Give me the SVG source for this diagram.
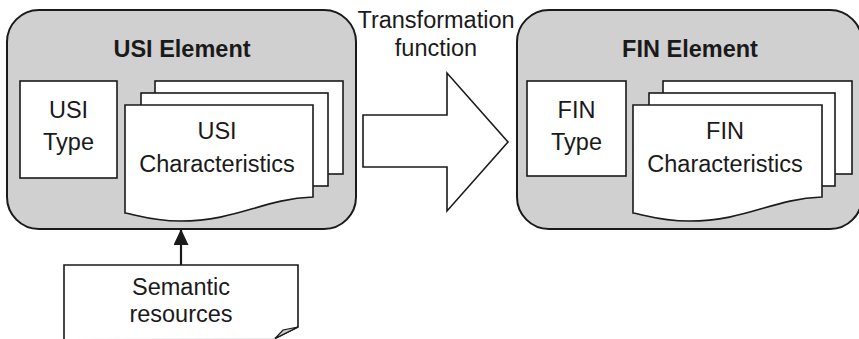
<svg xmlns="http://www.w3.org/2000/svg" width="859" height="339" viewBox="0 0 859 339">
<defs>
<style>
.elem{fill:#d0d0d0;stroke:#1a1a1a;stroke-width:2}
.box{fill:#fff;stroke:#1a1a1a;stroke-width:1.6}
.t{font-family:"Liberation Sans",Arial,sans-serif;font-size:23.5px;fill:#1a1a1a;text-anchor:middle}
.b{font-weight:bold}
.conn{stroke:#1a1a1a;stroke-width:2.2;fill:none}
</style>
<marker id="ah" viewBox="0 0 16 15" refX="15" refY="7.5" markerWidth="16" markerHeight="15" markerUnits="userSpaceOnUse" orient="auto">
<path d="M0,0 L16,7.5 L0,15 Z" fill="#1a1a1a"/>
</marker>
</defs>
<rect width="859" height="339" fill="#fff"/>

<g id="usi-element">
<rect class="elem" x="7" y="10" width="349" height="219" rx="32" ry="32"/>
<text class="t b" x="182" y="57">USI Element</text>
</g>
<g id="usi-type">
<rect class="box" x="20" y="81" width="97" height="97"/>
<text class="t" x="68.5" y="118">USI</text>
<text class="t" x="68.5" y="150">Type</text>
</g>
<g id="usi-characteristics">
<rect class="box" x="155" y="81" width="188" height="93"/>
<rect class="box" x="141" y="93" width="187" height="93"/>
<path class="box" d="M125,105 H313 V197 C262,199 238,221 180,221 C152,221 137,215 125,213 Z"/>
<text class="t" x="217" y="139">USI</text>
<text class="t" x="217" y="172">Characteristics</text>
</g>

<g id="transformation">
<polygon class="box" points="363,115 447,115 447,73 508,142 447,211 447,167 363,167"/>
<text class="t" x="436" y="28">Transformation</text>
<text class="t" x="436" y="56">function</text>
</g>

<g id="fin-element">
<rect class="elem" x="517" y="10" width="345" height="219" rx="32" ry="32"/>
<text class="t b" x="690" y="57">FIN Element</text>
</g>
<g id="fin-type">
<rect class="box" x="527" y="81" width="99" height="95"/>
<text class="t" x="576.5" y="118">FIN</text>
<text class="t" x="576.5" y="150">Type</text>
</g>
<g id="fin-characteristics">
<rect class="box" x="663" y="81" width="189" height="93"/>
<rect class="box" x="649" y="93" width="186" height="93"/>
<path class="box" d="M633,105 H822 V197 C771,199 747,221 689,221 C661,221 645,215 633,213 Z"/>
<text class="t" x="725" y="139">FIN</text>
<text class="t" x="725" y="172">Characteristics</text>
</g>

<g id="semantic-resources">
<line x1="64" y1="338" x2="276" y2="338" stroke="#aaa" stroke-width="1.2"/>
<path class="box" d="M64,339 V265 H298 V327 L275,338.5"/>
<polygon points="275,338.5 283,330 298,327" fill="#c8c8c8" stroke="#1a1a1a" stroke-width="1.2"/>
<text class="t" x="181" y="295">Semantic</text>
<text class="t" x="181" y="322">resources</text>
</g>

<g id="connectors">
<line class="conn" x1="181" y1="265" x2="181" y2="230" marker-end="url(#ah)"/>
</g>
</svg>
